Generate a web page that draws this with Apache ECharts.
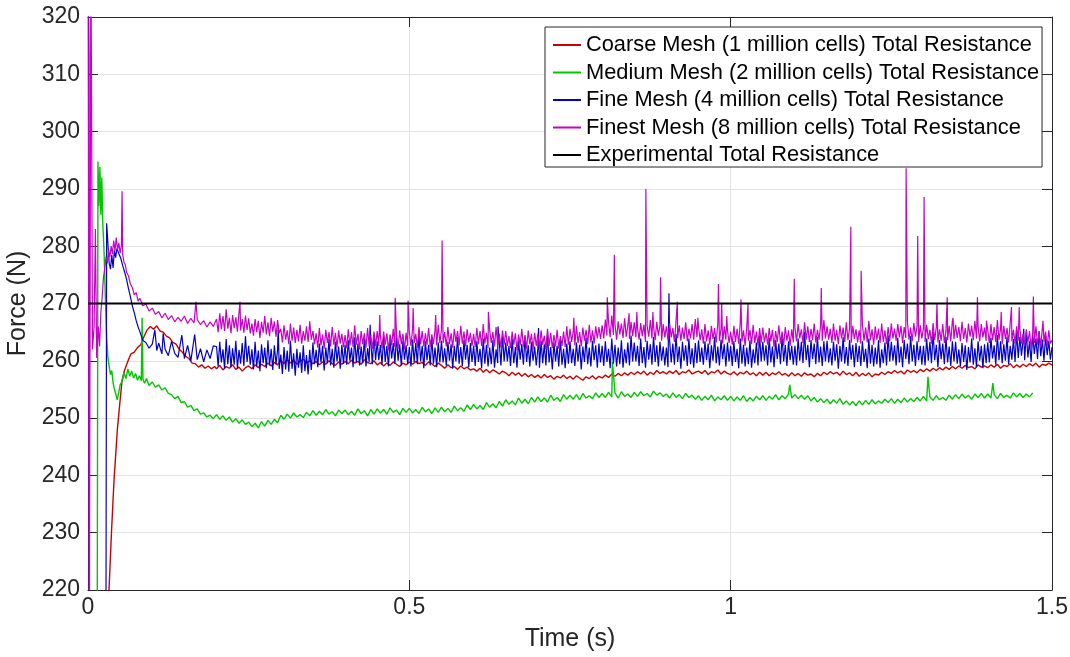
<!DOCTYPE html>
<html>
<head>
<meta charset="utf-8">
<script src="https://cdn.jsdelivr.net/npm/echarts/dist/echarts.min.js"></script>
<style>
html,body{margin:0;padding:0;background:#fff;}
#chart{width:1070px;height:657px;}
</style>
</head>
<body>
<div id="chart"></div>
<script>
// ---------------- DATA ----------------
const seriesNames = [
  'Coarse Mesh (1 million cells) Total Resistance',
  'Medium Mesh (2 million cells) Total Resistance',
  'Fine Mesh (4 million cells) Total Resistance',
  'Finest Mesh (8 million cells) Total Resistance',
  'Experimental Total Resistance'
];
const xTicks = [0, 0.5, 1, 1.5];
const yTicks = [220, 230, 240, 250, 260, 270, 280, 290, 300, 310, 320];

// sampling of the settled part of each record (from t = 0.2 s)
const GRID_START = 0.2;
const COARSE_STEP = 0.005;   // coarse & medium records
const FINE_STEP = 0.0025;    // fine & finest records

const experimentalT = [0, 1.5];
const experimentalF = [270, 270];

// Coarse mesh
const coarseEarlyT = [0, 0.03, 0.0327, 0.0365, 0.0405, 0.0456, 0.049, 0.053, 0.057, 0.061, 0.064, 0.067, 0.072, 0.077, 0.082, 0.087, 0.092, 0.097, 0.102, 0.107, 0.112, 0.117, 0.122, 0.127, 0.132, 0.137, 0.142, 0.147, 0.152, 0.157, 0.162, 0.167, 0.172, 0.177, 0.182, 0.187, 0.192, 0.197];
const coarseEarlyF = [150, 150, 220, 230, 239.2, 247.9, 252, 256.6, 258.4, 259.6, 260.5, 261.2, 261.5, 262.3, 262.8, 264.2, 265.4, 266.0, 265.5, 266.1, 265.2, 265.0, 264.3, 264.0, 263.2, 262.9, 262.0, 261.5, 260.8, 260.4, 259.6, 259.5, 258.9, 259.3, 258.7, 259.1, 258.6, 259.0];
const coarseF = [
258.6,259.2,258.4,259.0,258.7,259.3,258.5,258.9,258.2,258.8,
259.1,258.6,259.3,258.8,259.4,259.0,259.6,259.1,259.7,259.3,
260.0,259.5,260.2,259.6,260.1,259.4,259.9,260.3,259.6,260.0,
259.5,259.9,259.3,259.8,259.4,260.0,259.5,259.2,259.8,259.4,
259.9,259.5,260.1,259.6,259.9,259.4,260.2,259.7,259.5,260.0,
259.3,259.7,259.1,259.6,259.2,259.8,259.4,259.0,259.6,259.3,
259.8,259.4,259.9,259.5,259.7,259.2,259.8,259.5,259.0,259.6,
259.2,258.7,259.3,258.8,259.0,258.5,259.1,258.6,258.9,258.4,
258.6,258.2,258.7,258.0,258.5,257.9,258.4,258.1,257.7,258.2,
257.9,257.4,258.0,257.5,257.9,257.3,257.8,257.2,257.6,257.1,
257.5,257.0,257.6,257.1,257.4,256.8,257.3,257.0,257.5,256.9,
257.3,256.8,257.4,257.0,256.6,257.2,256.9,257.4,256.8,257.3,
257.0,257.5,257.1,257.7,257.3,257.8,257.4,257.9,257.5,258.0,
257.6,258.1,257.7,258.2,257.5,258.0,257.6,258.3,257.8,258.1,
257.7,258.2,257.8,258.3,257.6,258.1,257.9,258.4,257.7,258.0,
258.2,257.8,258.3,257.6,258.1,257.9,258.4,257.7,258.2,257.8,
257.6,258.1,257.5,258.0,257.7,258.2,257.6,257.9,257.4,258.0,
257.5,258.0,257.4,257.9,257.6,258.1,257.5,257.8,257.3,257.9,
257.4,257.8,257.3,257.9,257.5,257.7,257.2,257.8,257.4,258.0,
257.6,258.1,257.7,258.0,257.5,258.2,257.6,257.9,257.4,258.0,
257.3,257.8,257.4,257.9,257.2,257.7,257.5,258.0,257.6,258.1,
257.8,258.3,257.9,258.2,257.7,258.4,258.0,258.3,257.9,258.5,
258.1,258.6,258.2,258.7,258.3,258.8,258.4,258.9,258.5,259.0,
258.6,259.1,258.7,259.2,258.8,259.0,258.6,259.3,258.9,259.1,
258.8,259.3,258.9,259.4,258.7,259.2,259.0,259.5,258.8,259.3,
258.9,259.4,259.0,259.5,259.1,259.6,258.9,259.4,259.2,259.6,
259.3];
const coarseSpikeT = [];
const coarseSpikeF = [];

// Medium mesh
const mediumEarlyT = [0, 0.0135, 0.0155, 0.017, 0.0185, 0.02, 0.0215, 0.023, 0.025, 0.027, 0.029, 0.031, 0.033, 0.035, 0.037, 0.039, 0.041, 0.043, 0.0455, 0.048, 0.05, 0.053, 0.056, 0.059, 0.062, 0.065, 0.068, 0.071, 0.074, 0.077, 0.08, 0.083, 0.0842, 0.0855, 0.088, 0.091, 0.095, 0.1, 0.105, 0.11, 0.115, 0.12, 0.125, 0.13, 0.135, 0.14, 0.145, 0.15, 0.155, 0.16, 0.165, 0.17, 0.175, 0.18, 0.185, 0.19, 0.195];
const mediumEarlyF = [150, 150, 294.8, 287, 293.8, 285.5, 292, 284, 279, 271, 264, 260.5, 259, 257.6, 258.3, 256.2, 255.1, 254.3, 253.2, 254.6, 255.8, 256.4, 257.9, 256.9, 258.6, 257.3, 258.2, 257.0, 257.8, 256.6, 257.4, 256.5, 267.5, 256.8, 256.1, 256.9, 255.7, 256.3, 255.4, 255.8, 254.9, 255.3, 254.3, 254.1, 253.4, 253.8, 252.7, 252.9, 251.9, 252.2, 251.3, 251.6, 250.7, 250.9, 250.2, 250.5, 249.9];
const mediumF = [
250.6,249.8,250.4,249.6,250.2,249.3,249.9,249.1,249.7,248.9,
249.3,248.5,249.1,248.3,249.4,248.6,249.6,248.9,249.8,249.2,
250.5,249.8,250.7,250.0,250.9,250.2,250.6,250.1,251.0,250.4,
251.3,250.5,251.2,250.6,251.5,250.7,251.1,250.4,251.4,250.8,
251.4,250.6,251.2,250.5,251.6,250.8,251.3,250.4,251.5,250.7,
251.6,250.9,251.5,250.7,251.8,251.0,251.4,250.6,251.7,251.0,
251.7,250.9,251.5,250.8,251.9,251.1,251.6,250.8,251.8,251.0,
251.9,251.1,251.7,251.0,252.1,251.3,251.8,251.2,252.3,251.5,
252.4,251.6,252.2,251.5,252.7,251.9,252.5,251.8,252.9,252.1,
253.2,252.4,253.0,252.3,253.5,252.6,253.3,252.5,253.6,252.8,
253.7,252.9,253.5,252.8,254.0,253.1,253.6,252.9,254.1,253.3,
254.0,253.3,254.1,253.2,254.3,253.5,253.9,253.4,254.4,253.6,
254.3,253.6,254.5,253.7,254.4,253.5,254.6,253.8,254.2,253.6,
254.5,253.8,254.6,253.9,254.3,253.7,254.7,254.0,254.4,253.8,
254.2,253.5,254.4,253.6,254.1,253.4,254.3,253.6,254.0,253.3,
253.9,253.1,253.8,253.2,254.0,253.0,253.7,253.2,253.9,253.1,
253.8,253.0,253.7,253.1,253.9,252.9,253.6,253.0,253.8,253.2,
253.9,253.1,253.8,253.3,254.1,253.2,253.9,253.4,254.2,253.5,
254.1,253.4,254.0,253.3,253.9,253.0,253.6,252.8,253.4,252.7,
253.3,252.5,253.2,252.6,253.4,252.4,253.0,252.3,252.9,252.2,
253.0,252.3,253.1,252.4,253.2,252.5,253.0,252.6,253.3,252.7,
253.4,252.6,253.3,252.7,253.5,252.8,253.4,252.9,253.6,253.0,
253.8,253.0,253.7,253.1,253.9,253.2,253.6,253.1,254.0,253.3,
254.1,253.4,254.2,253.5,254.0,253.3,254.2,253.6,254.3,253.5,
254.2,253.5,254.1,253.4,254.3,253.6,254.0,253.5,254.4,253.7,
254.3,253.6,254.2,253.7,254.4];
const mediumSpikeT = [0.816, 1.092, 1.307, 1.408];
const mediumSpikeF = [259.8, 255.8, 257.2, 256.1];

// Fine mesh
const fineEarlyT = [0, 0.0015, 0.003, 0.027, 0.029, 0.031, 0.033, 0.035, 0.037, 0.039, 0.041, 0.043, 0.045, 0.048, 0.051, 0.054, 0.057, 0.06, 0.063, 0.066, 0.069, 0.072, 0.075, 0.078, 0.081, 0.085, 0.09, 0.095, 0.1, 0.104, 0.107, 0.11, 0.115, 0.117, 0.12, 0.125, 0.13, 0.135, 0.14, 0.146, 0.15, 0.155, 0.16, 0.166, 0.17, 0.175, 0.18, 0.185, 0.19, 0.195];
const fineEarlyF = [335, 313, 150, 150, 284, 280.5, 277, 276, 278.5, 276.2, 279.3, 278, 279.6, 278.7, 277.9, 276.6, 275.5, 274.2, 272.6, 271.2, 269.6, 268.4, 267.0, 265.9, 265.0, 263.6, 263.2, 262.2, 262.9, 265.4, 261.8, 263.1, 261.2, 264.8, 262.0, 260.9, 263.4, 261.3, 260.6, 264.5, 260.4, 262.7, 260.0, 264.6, 260.2, 262.1, 259.8, 261.9, 260.4, 262.6];
const fineF = [
262.5,259.0,263.3,259.7,262.0,258.6,263.8,259.4,262.7,258.9,262.2,259.3,263.5,258.7,261.9,259.5,263.1,259.1,264.3,259.8,
262.6,259.3,262.0,258.5,263.3,259.0,261.8,258.2,262.9,259.6,262.3,258.7,263.6,259.2,262.1,258.4,262.7,259.4,261.9,258.6,
261.1,257.7,262.4,258.5,261.8,258.1,263.5,258.6,261.3,257.4,262.1,258.8,261.5,257.9,262.7,258.2,261.0,257.6,261.9,258.4,
263.2,259.4,261.9,258.9,263.0,259.7,262.6,258.3,262.3,259.6,263.8,259.2,262.1,258.8,263.3,259.9,262.5,258.6,262.8,259.5,
262.8,259.3,263.6,260.0,262.3,258.9,264.1,259.7,263.0,259.2,262.5,259.6,263.8,259.0,262.2,259.8,263.4,259.4,264.6,260.1,
263.4,260.1,262.8,259.3,264.1,259.8,262.6,259.0,263.7,260.4,263.1,259.5,264.4,260.0,262.9,259.2,263.5,260.2,262.7,259.4,
262.4,259.0,263.7,259.8,263.1,259.4,264.8,259.9,262.6,258.7,263.4,260.1,262.8,259.2,264.0,259.5,262.3,258.9,263.2,259.7,
263.5,259.7,262.2,259.2,263.3,260.0,262.9,258.6,262.6,259.9,264.1,259.5,262.4,259.1,263.6,260.2,262.8,258.9,263.1,259.8,
262.6,259.1,263.4,259.8,262.1,258.7,263.9,259.5,262.8,259.0,262.3,259.4,263.6,258.8,262.0,259.6,263.2,259.2,264.4,259.9,
263.2,259.9,262.6,259.1,263.9,259.6,262.4,258.8,263.5,260.2,262.9,259.3,264.2,259.8,262.7,259.0,263.3,260.0,262.5,259.2,
262.2,258.8,263.5,259.6,262.9,259.2,264.6,259.7,262.4,258.5,263.2,259.9,262.6,259.0,263.8,259.3,262.1,258.7,263.0,259.5,
263.4,259.6,262.1,259.1,263.2,259.9,262.8,258.5,262.5,259.8,264.0,259.4,262.3,259.0,263.5,260.1,262.7,258.8,263.0,259.7,
262.6,259.1,263.4,259.8,262.1,258.7,263.9,259.5,262.8,259.0,262.3,259.4,263.6,258.8,262.0,259.6,263.2,259.2,264.4,259.9,
263.2,259.9,262.6,259.1,263.9,259.6,262.4,258.8,263.5,260.2,262.9,259.3,264.2,259.8,262.7,259.0,263.3,260.0,262.5,259.2,
262.3,258.9,263.6,259.7,263.0,259.3,264.7,259.8,262.5,258.6,263.3,260.0,262.7,259.1,263.9,259.4,262.2,258.8,263.1,259.6,
263.6,259.8,262.3,259.3,263.4,260.1,263.0,258.7,262.7,260.0,264.2,259.6,262.5,259.2,263.7,260.3,262.9,259.0,263.2,259.9,
262.6,259.1,263.4,259.8,262.1,258.7,263.9,259.5,262.8,259.0,262.3,259.4,263.6,258.8,262.0,259.6,263.2,259.2,264.4,259.9,
263.3,260.0,262.7,259.2,264.0,259.7,262.5,258.9,263.6,260.3,263.0,259.4,264.3,259.9,262.8,259.1,263.4,260.1,262.6,259.3,
262.6,259.2,263.9,260.0,263.3,259.6,265.0,260.1,262.8,258.9,263.6,260.3,263.0,259.4,264.2,259.7,262.5,259.1,263.4,259.9,
263.5,259.7,262.2,259.2,263.3,260.0,262.9,258.6,262.6,259.9,264.1,259.5,262.4,259.1,263.6,260.2,262.8,258.9,263.1,259.8,
262.6,259.1,263.4,259.8,262.1,258.7,263.9,259.5,262.8,259.0,262.3,259.4,263.6,258.8,262.0,259.6,263.2,259.2,264.4,259.9,
263.3,260.0,262.7,259.2,264.0,259.7,262.5,258.9,263.6,260.3,263.0,259.4,264.3,259.9,262.8,259.1,263.4,260.1,262.6,259.3,
262.6,259.2,263.9,260.0,263.3,259.6,265.0,260.1,262.8,258.9,263.6,260.3,263.0,259.4,264.2,259.7,262.5,259.1,263.4,259.9,
263.3,259.5,262.0,259.0,263.1,259.8,262.7,258.4,262.4,259.7,263.9,259.3,262.2,258.9,263.4,260.0,262.6,258.7,262.9,259.6,
263.2,259.7,264.0,260.4,262.7,259.3,264.5,260.1,263.4,259.6,262.9,260.0,264.2,259.4,262.6,260.2,263.8,259.8,265.0,260.5,
264.2,260.9,263.6,260.1,264.9,260.6,263.4,259.8,264.5,261.2,263.9,260.3,265.2,260.8,263.7,260.0,264.3,261.0,263.5,260.2,
262.4];
const fineSpikeT = [0.296, 0.439, 0.638, 0.701, 0.904, 1.456];
const fineSpikeF = [266.2, 266.3, 266.0, 265.7, 271.8, 265.6];

// Finest mesh
const finestEarlyT = [0, 0.002, 0.0045, 0.007, 0.0095, 0.0115, 0.0135, 0.016, 0.018, 0.02, 0.022, 0.024, 0.026, 0.028, 0.03, 0.032, 0.034, 0.036, 0.038, 0.04, 0.042, 0.044, 0.046, 0.048, 0.05, 0.052, 0.053, 0.054, 0.056, 0.058, 0.06, 0.063, 0.066, 0.069, 0.072, 0.075, 0.078, 0.081, 0.085, 0.09, 0.095, 0.1, 0.105, 0.11, 0.115, 0.12, 0.125, 0.13, 0.135, 0.14, 0.145, 0.15, 0.155, 0.16, 0.165, 0.168, 0.17, 0.175, 0.18, 0.185, 0.19, 0.195];
const finestEarlyF = [340, 205, 335, 262, 266, 283, 260.5, 266, 262.5, 268.5, 271, 274.5, 276, 278.2, 277, 279.3, 278.1, 280, 278.6, 281, 279.2, 281.5, 279.4, 280.6, 278.8, 280.1, 289.6, 278.5, 277.2, 276.8, 275.5, 274.8, 273.4, 272.8, 271.5, 271.9, 270.4, 270.9, 269.6, 269.9, 268.7, 269.2, 268.1, 268.6, 267.5, 268.3, 267.2, 267.9, 266.8, 267.6, 266.9, 267.8, 266.5, 267.4, 266.6, 270.3, 267.2, 266.3, 267.0, 265.9, 266.8, 266.0];
const finestF = [
267.3,265.0,268.3,265.5,267.8,265.2,269.0,265.6,267.5,264.8,268.0,265.7,267.6,265.1,268.5,265.3,267.3,264.9,267.9,265.4,
267.4,264.8,266.5,264.4,267.3,265.0,267.0,264.0,266.8,264.9,267.8,264.6,266.7,264.3,267.5,265.1,266.9,264.2,267.1,264.8,
265.6,263.2,266.2,263.7,265.3,262.9,266.5,263.5,265.8,263.1,265.4,263.4,266.3,263.0,265.2,263.5,266.0,263.3,266.9,263.7,
265.2,262.9,264.8,262.3,265.7,262.7,264.6,262.1,265.4,263.1,265.0,262.5,265.9,262.8,264.9,262.3,265.3,263.0,264.7,262.4,
264.5,262.2,265.5,262.7,265.0,262.4,266.2,262.8,264.7,262.0,265.2,262.9,264.8,262.3,265.7,262.5,264.5,262.1,265.1,262.6,
265.2,262.6,264.3,262.2,265.1,262.8,264.8,261.8,264.6,262.7,265.6,262.4,264.5,262.1,265.3,262.9,264.7,262.0,264.9,262.6,
265.0,262.6,265.6,263.1,264.7,262.3,265.9,262.9,265.2,262.5,264.8,262.8,265.7,262.4,264.6,262.9,265.4,262.7,266.3,263.1,
265.4,263.1,265.0,262.5,265.9,262.9,264.8,262.3,265.6,263.3,265.2,262.7,266.1,263.0,265.1,262.5,265.5,263.2,264.9,262.6,
264.7,262.4,265.7,262.9,265.2,262.6,266.4,263.0,264.9,262.2,265.4,263.1,265.0,262.5,265.9,262.7,264.7,262.3,265.3,262.8,
265.2,262.6,264.3,262.2,265.1,262.8,264.8,261.8,264.6,262.7,265.6,262.4,264.5,262.1,265.3,262.9,264.7,262.0,264.9,262.6,
264.7,262.3,265.3,262.8,264.4,262.0,265.6,262.6,264.9,262.2,264.5,262.5,265.4,262.1,264.3,262.6,265.1,262.4,266.0,262.8,
265.6,263.3,265.2,262.7,266.1,263.1,265.0,262.5,265.8,263.5,265.4,262.9,266.3,263.2,265.3,263.0,266.0,263.9,265.9,263.8,
266.2,263.9,267.2,264.4,266.7,264.1,267.9,264.5,266.4,263.7,266.9,264.6,266.5,264.0,267.4,264.2,266.2,263.8,266.8,264.3,
266.7,264.1,265.8,263.7,266.6,264.3,266.3,263.3,266.1,264.2,267.1,263.9,266.0,263.6,266.8,264.4,266.2,263.5,266.4,264.1,
266.0,263.6,266.6,264.1,265.7,263.3,266.9,263.9,266.2,263.5,265.8,263.8,266.7,263.4,265.6,263.9,266.4,263.7,267.3,264.1,
265.9,263.6,265.5,263.0,266.4,263.4,265.3,262.8,266.1,263.8,265.7,263.2,266.6,263.5,265.6,263.0,266.0,263.7,265.4,263.1,
265.1,262.8,266.1,263.3,265.6,263.0,266.8,263.4,265.3,262.6,265.8,263.5,265.4,262.9,266.3,263.1,265.1,262.7,265.7,263.2,
265.8,263.2,264.9,262.8,265.7,263.4,265.4,262.4,265.2,263.3,266.2,263.0,265.1,262.7,265.9,263.5,265.3,262.6,265.5,263.2,
265.8,263.4,266.4,263.9,265.5,263.1,266.7,263.7,266.0,263.3,265.6,263.6,266.5,263.2,265.4,263.7,266.2,263.5,267.1,263.9,
266.0,263.7,265.6,263.1,266.5,263.5,265.4,262.9,266.2,263.9,265.8,263.3,266.7,263.6,265.7,263.1,266.1,263.8,265.5,263.2,
265.3,263.0,266.3,263.5,265.8,263.2,267.0,263.6,265.5,262.8,266.0,263.7,265.6,263.1,266.5,263.3,265.3,262.9,265.9,263.4,
266.5,263.9,265.6,263.5,266.4,264.1,266.1,263.1,265.9,264.0,266.9,263.7,265.8,263.4,266.6,264.2,266.0,263.3,266.2,263.9,
265.7,263.3,266.3,263.8,265.4,263.0,266.6,263.6,265.9,263.2,265.5,263.5,266.4,263.1,265.3,263.6,266.1,263.4,267.0,263.8,
266.3,264.0,265.9,263.4,266.8,263.8,265.7,263.2,266.5,264.2,266.1,263.6,267.0,263.9,266.0,263.4,266.4,264.1,265.8,263.5,
265.4,263.1,266.4,263.6,265.9,263.3,267.1,263.7,265.6,262.9,266.1,263.8,265.7,263.2,266.6,263.4,265.4,263.0,266.0,263.5,
265.6,263.0,264.7,262.6,265.5,263.2,265.2,262.2,265.0,263.1,266.0,262.8,264.9,262.5,265.7,263.3,265.1,262.4,265.3,263.0,
263.6];
const finestSpikeT = [0.2365, 0.454, 0.478, 0.498, 0.506, 0.541, 0.551, 0.623, 0.756, 0.808, 0.819, 0.842, 0.854, 0.868, 0.879, 0.891, 0.917, 0.949, 0.981, 0.986, 0.994, 1.016, 1.027, 1.099, 1.141, 1.187, 1.203, 1.273, 1.291, 1.301, 1.321, 1.337, 1.346, 1.384, 1.398, 1.421, 1.437, 1.449, 1.471, 1.486];
const finestSpikeF = [270.3, 268, 271, 270.5, 269.2, 268, 281, 268.5, 267.5, 271.1, 278.5, 268.3, 268.5, 290, 268.5, 274.6, 270.3, 267.5, 273.4, 270, 267.8, 270.7, 270, 274.3, 272.7, 283.4, 275.7, 293.6, 281.8, 288.6, 270, 271.1, 267.5, 271.1, 267, 268.5, 269.4, 269.4, 271.2, 267];

// ---------------- BUILD ----------------
function build(earlyT, earlyF, gridF, step, spikeT, spikeF) {
  const pts = [];
  for (let i = 0; i < earlyT.length; i++) pts.push([earlyT[i], earlyF[i]]);
  for (let i = 0; i < gridF.length; i++) pts.push([+(GRID_START + i * step).toFixed(5), gridF[i]]);
  for (let i = 0; i < spikeT.length; i++) pts.push([spikeT[i], spikeF[i]]);
  pts.sort((a, b) => a[0] - b[0]);
  return pts;
}
const coarseData = build(coarseEarlyT, coarseEarlyF, coarseF, COARSE_STEP, coarseSpikeT, coarseSpikeF);
const mediumData = build(mediumEarlyT, mediumEarlyF, mediumF, COARSE_STEP, mediumSpikeT, mediumSpikeF);
const fineData = build(fineEarlyT, fineEarlyF, fineF, FINE_STEP, fineSpikeT, fineSpikeF);
const finestData = build(finestEarlyT, finestEarlyF, finestF, FINE_STEP, finestSpikeT, finestSpikeF);
const expData = experimentalT.map((t, i) => [t, experimentalF[i]]);

const colors = ['#cc0000', '#00c800', '#0000c8', '#c800c8', '#000000'];
const FONT = 'Liberation Sans, Arial, Helvetica, sans-serif';
const TXT = '#262626';

const chart = echarts.init(document.getElementById('chart'), null, {renderer: 'canvas'});

function lineSeries(i, data, w) {
  return {
    name: seriesNames[i], type: 'line', data: data, xAxisIndex: 0, yAxisIndex: 0,
    showSymbol: false, symbol: 'none', clip: true, animation: false,
    lineStyle: {color: colors[i], width: w}, itemStyle: {color: colors[i]},
    emphasis: {disabled: true}, z: 2 + i
  };
}

const option = {
  animation: false,
  backgroundColor: '#ffffff',
  grid: {left: 88, right: 18, top: 17, bottom: 67, containLabel: false, outerBoundsMode: 'none'},
  xAxis: [{
    type: 'value', min: xTicks[0], max: xTicks[xTicks.length - 1], interval: 0.5, position: 'bottom',
    name: 'Time (s)', nameLocation: 'middle', nameGap: 37,
    nameTextStyle: {fontSize: 25, color: TXT, fontFamily: FONT},
    axisLine: {show: true, onZero: false, lineStyle: {color: TXT, width: 1}},
    axisTick: {show: true, inside: true, length: 10, lineStyle: {color: TXT}},
    axisLabel: {fontSize: 23, color: TXT, fontFamily: FONT, margin: 6},
    splitLine: {show: true, lineStyle: {color: '#e3e3e3', width: 1}}
  }, {
    type: 'value', min: xTicks[0], max: xTicks[xTicks.length - 1], interval: 0.5, position: 'top',
    axisLine: {show: true, onZero: false, lineStyle: {color: TXT, width: 1}},
    axisTick: {show: true, inside: true, length: 10, lineStyle: {color: TXT}},
    axisLabel: {show: false}, splitLine: {show: false}
  }],
  yAxis: [{
    type: 'value', min: yTicks[0], max: yTicks[yTicks.length - 1], interval: 10, position: 'left',
    name: 'Force (N)', nameLocation: 'middle', nameGap: 53,
    nameTextStyle: {fontSize: 25, color: TXT, fontFamily: FONT},
    axisLine: {show: true, onZero: false, lineStyle: {color: TXT, width: 1}},
    axisTick: {show: true, inside: true, length: 10, lineStyle: {color: TXT}},
    axisLabel: {fontSize: 23, color: TXT, fontFamily: FONT, margin: 8},
    splitLine: {show: true, lineStyle: {color: '#e3e3e3', width: 1}}
  }, {
    type: 'value', min: yTicks[0], max: yTicks[yTicks.length - 1], interval: 10, position: 'right',
    axisLine: {show: true, onZero: false, lineStyle: {color: TXT, width: 1}},
    axisTick: {show: true, inside: true, length: 10, lineStyle: {color: TXT}},
    axisLabel: {show: false}, splitLine: {show: false}
  }],
  legend: {
    orient: 'vertical', left: 545, top: 27,
    padding: [7, 3, 1, 8],
    itemWidth: 28, itemHeight: 2, itemGap: 5.5,
    icon: 'rect',
    backgroundColor: '#ffffff', borderColor: TXT, borderWidth: 1,
    textStyle: {fontSize: 21.8, color: '#000', fontFamily: FONT, lineHeight: 22},
    data: seriesNames
  },
  series: [
    lineSeries(0, coarseData, 1.4),
    lineSeries(1, mediumData, 1.4),
    lineSeries(2, fineData, 1.2),
    lineSeries(3, finestData, 1.2),
    lineSeries(4, expData, 2)
  ]
};
chart.setOption(option);
</script>
</body>
</html>
